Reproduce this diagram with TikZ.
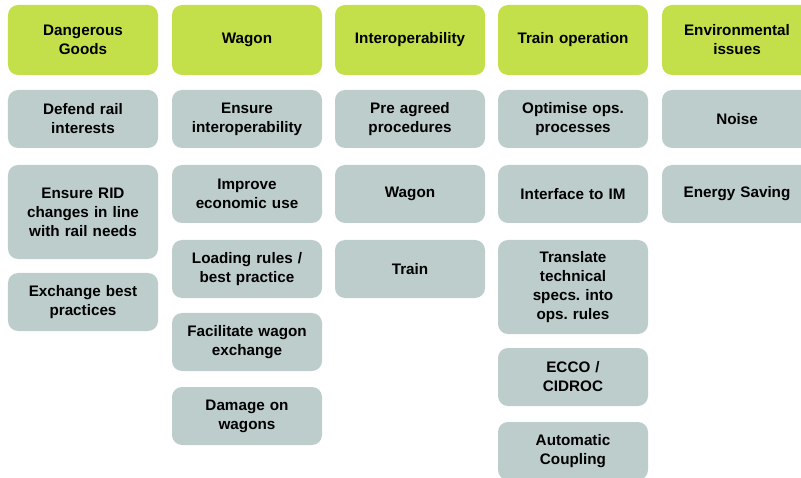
\documentclass[tikz,border=0pt]{standalone}
\usepackage{fontspec}
\setmainfont{Liberation Sans}
\frenchspacing
\definecolor{hgreen}{RGB}{195,224,74}
\definecolor{bgray}{RGB}{189,205,203}
\begin{document}
\begin{tikzpicture}[x=1bp,y=-1bp,
  boxbase/.style={rounded corners=10bp, minimum width=150bp, inner sep=0pt, align=center, text width=146bp,
    font=\fontsize{15.3}{19}\selectfont\bfseries, text=black},
  hdr/.style={boxbase, fill=hgreen, minimum height=70bp},
  item/.style={boxbase, fill=bgray, minimum height=58bp},
  tall/.style={boxbase, fill=bgray, minimum height=94bp}]
\useasboundingbox (0,0) rectangle (801,478);
\clip (0,0) rectangle (801,478);
% headers
\node[hdr] (h1) at (83,40) {Dangerous\\Goods};
\node[hdr] (h2) at (247,40) {Wagon};
\node[hdr] (h3) at (410,40) {Interoperability};
\node[hdr] (h4) at (573,40) {Train operation};
\node[hdr] (h5) at (737,40) {Environmental\\issues};
% column 1
\node[item] (a1) at (83,119) {Defend rail\\interests};
\node[tall] (a2) at (83,212) {Ensure RID\\changes in line\\with rail needs};
\node[item] (a3) at (83,302) {Exchange best\\practices};
% column 2
\node[item] (b1) at (247,119) {Ensure\\interoperability};
\node[item] (b2) at (247,194) {Improve\\economic use};
\node[item] (b3) at (247,269) {Loading rules /\\best practice};
\node[item] (b4) at (247,342) {Facilitate wagon\\exchange};
\node[item] (b5) at (247,416) {Damage on\\wagons};
% column 3
\node[item] (c1) at (410,119) {Pre agreed\\procedures};
\node[item] (c2) at (410,194) {Wagon};
\node[item] (c3) at (410,269) {Train};
% column 4
\node[item] (d1) at (573,119) {Optimise ops.\\processes};
\node[item] (d2) at (573,194) {Interface to IM};
\node[tall] (d3) at (573,287) {Translate\\technical\\specs. into\\ops. rules};
\node[item] (d4) at (573,377) {ECCO /\\CIDROC};
\node[item] (d5) at (573,451) {Automatic\\Coupling};
% column 5
\node[item] (e1) at (737,119) {Noise};
\node[item] (e2) at (737,194) {Energy Saving};
\end{tikzpicture}
\end{document}
